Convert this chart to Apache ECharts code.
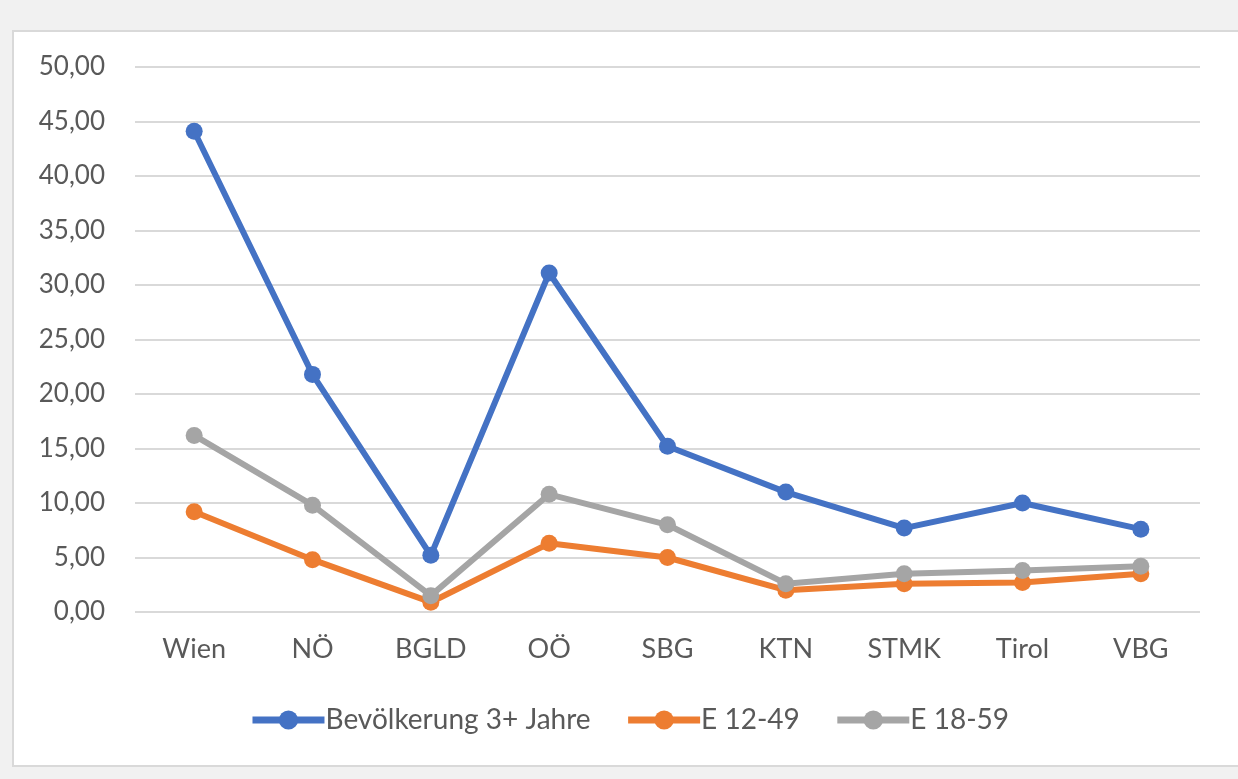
<!DOCTYPE html>
<html><head><meta charset="utf-8">
<script src="https://cdn.jsdelivr.net/npm/echarts@6/dist/echarts.min.js"></script>
<style>
html,body{margin:0;padding:0;background:#f1f1f1;width:1238px;height:779px;overflow:hidden;}
#c{position:absolute;left:12px;top:30px;width:1230px;height:733px;border:2px solid #d9d9d9;background:#fff;}
</style></head>
<body><div id="c"></div>
<script>
const categories = ['Wien','NÖ','BGLD','OÖ','SBG','KTN','STMK','Tirol','VBG'];
const bevoelkerung = [44.1, 21.8, 5.2, 31.1, 15.2, 11.0, 7.7, 10.0, 7.6];
const e1249 = [9.2, 4.8, 0.9, 6.3, 5.0, 2.0, 2.6, 2.7, 3.5];
const e1859 = [16.2, 9.8, 1.5, 10.8, 8.0, 2.6, 3.5, 3.8, 4.2];
const seriesNames = ['Bevölkerung 3+ Jahre','E 12-49','E 18-59'];
const colors = ['#4472c4','#ed7d31','#a5a5a5'];

const chart = echarts.init(document.getElementById('c'));
const font = 'Lato, "Open Sans", sans-serif';
function mk(name, data, color){
  return {name, type:'line', data, symbol:'circle', symbolSize:17,
    lineStyle:{width:6,color}, itemStyle:{color}, z: 2};
}
chart.setOption({
  animation:false,
  color: colors,
  grid:{left:121, right:44, top:35, bottom:153},
  xAxis:{type:'category', data:categories, boundaryGap:true,
    axisLine:{show:false}, axisTick:{show:false},
    axisLabel:{color:'#595959', fontSize:27, fontFamily:font, margin:24}},
  yAxis:{type:'value', min:0, max:50, interval:5,
    axisLine:{show:false}, axisTick:{show:false},
    splitLine:{lineStyle:{color:'#d9d9d9', width:2}},
    axisLabel:{color:'#595959', fontSize:26, fontFamily:font, margin:30,
      formatter: v => v.toFixed(2).replace('.', ',')}},
  legend:{top:669, left:'center', itemWidth:72, itemHeight:24, itemGap:34,
    lineStyle:{width:7},
    textStyle:{color:'#595959', fontSize:28, fontFamily:font, padding:[0,0,0,-4]},
    data: seriesNames},
  series:[
    mk(seriesNames[0], bevoelkerung, colors[0]),
    mk(seriesNames[1], e1249, colors[1]),
    mk(seriesNames[2], e1859, colors[2])
  ]
});
</script></body></html>
